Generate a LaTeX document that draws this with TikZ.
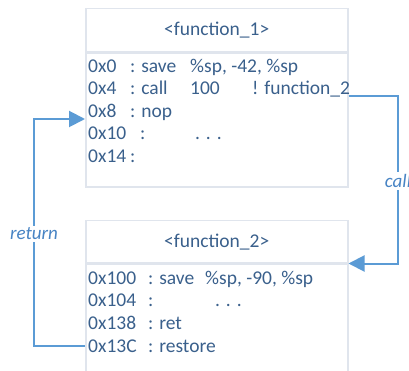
\documentclass[tikz,border=0pt]{standalone}
\usepackage{fontspec}
\setmainfont{Carlito}
\usetikzlibrary{arrows.meta}
\definecolor{linkc}{RGB}{91,155,213}
\definecolor{boxc}{RGB}{224,229,237}
\definecolor{textc}{RGB}{58,96,140}
\definecolor{lblc}{RGB}{72,132,196}
\begin{document}
\begin{tikzpicture}[x=1pt, y=-1pt, >={Triangle[length=16pt,width=16pt]},
  hdr/.style={draw=boxc, line width=1.5pt, minimum width=262pt, inner sep=0pt,
    anchor=north west, text=textc, font=\fontsize{19.5}{22}\selectfont},
  bdy/.style={draw=boxc, line width=1.5pt, minimum width=262pt, inner sep=0pt, anchor=north},
  code/.style={anchor=base west, inner sep=0pt, text=textc, font=\fontsize{19.5}{22}\selectfont},
  link/.style={draw=linkc, line width=2pt},
  lbl/.style={fill=white, inner sep=2pt, text=lblc, font=\fontsize{19}{22}\selectfont\itshape}]
  \useasboundingbox[fill=white] (0,0) rectangle (409,371);

  % function_1
  \node[hdr, minimum height=43.5pt] (head1) at (85,8) {<function\_1>};
  \node[bdy, minimum height=133.5pt] (body1) at (head1.south) {};
  \node[code] (adr0) at (88,73) {0x0};
  \node[code] (ins0) at (130,73) {: save};
  \node[code] (opr0) at (190,73) {\%sp, -42, \%sp};
  \node[code] (adr4) at (88,95) {0x4};
  \node[code] (ins4) at (130,95) {: call};
  \node[code] (opr4) at (190,95) {100};
  \node[code] (cmt4) at (252,95) {! function\_2};
  \node[code] (adr8) at (88,117.5) {0x8};
  \node[code] (ins8) at (130,117.5) {: nop};
  \node[code] (adr10) at (88,140) {0x10};
  \node[code] (ins10) at (140,140) {:};
  \node[code] (opr10) at (195,140) {. . .};
  \node[code] (adr14) at (88,162.5) {0x14};
  \node[code] (ins14) at (130,162.5) {:};

  % function_2
  \node[hdr, minimum height=42pt] (head2) at (85,220) {<function\_2>};
  \node[bdy, minimum height=108pt] (body2) at (head2.south) {};
  \node[code] (adr100) at (88,284) {0x100};
  \node[code] (ins100) at (148,284) {: save};
  \node[code] (opr100) at (205,284) {\%sp, -90, \%sp};
  \node[code] (adr104) at (88,306.7) {0x104};
  \node[code] (ins104) at (148,306.7) {:};
  \node[code] (opr104) at (215,306.7) {. . .};
  \node[code] (adr138) at (88,329) {0x138};
  \node[code] (ins138) at (148,329) {: ret};
  \node[code] (adr13C) at (88,352) {0x13C};
  \node[code] (ins13C) at (148,352) {: restore};

  % call / return
  \coordinate (callcorner) at (398,96);
  \coordinate (retcorner) at (34,119);
  \draw[link, ->] (body1.east |- callcorner) -- (callcorner) |- (head2.south east);
  \draw[link, ->] (body2.west |- adr13C.west) -| (retcorner) -- (body1.west |- retcorner);
  \node[lbl] (calllbl) at (398,181) {call};
  \node[lbl] (retlbl) at (34,234) {return};
\end{tikzpicture}
\end{document}
